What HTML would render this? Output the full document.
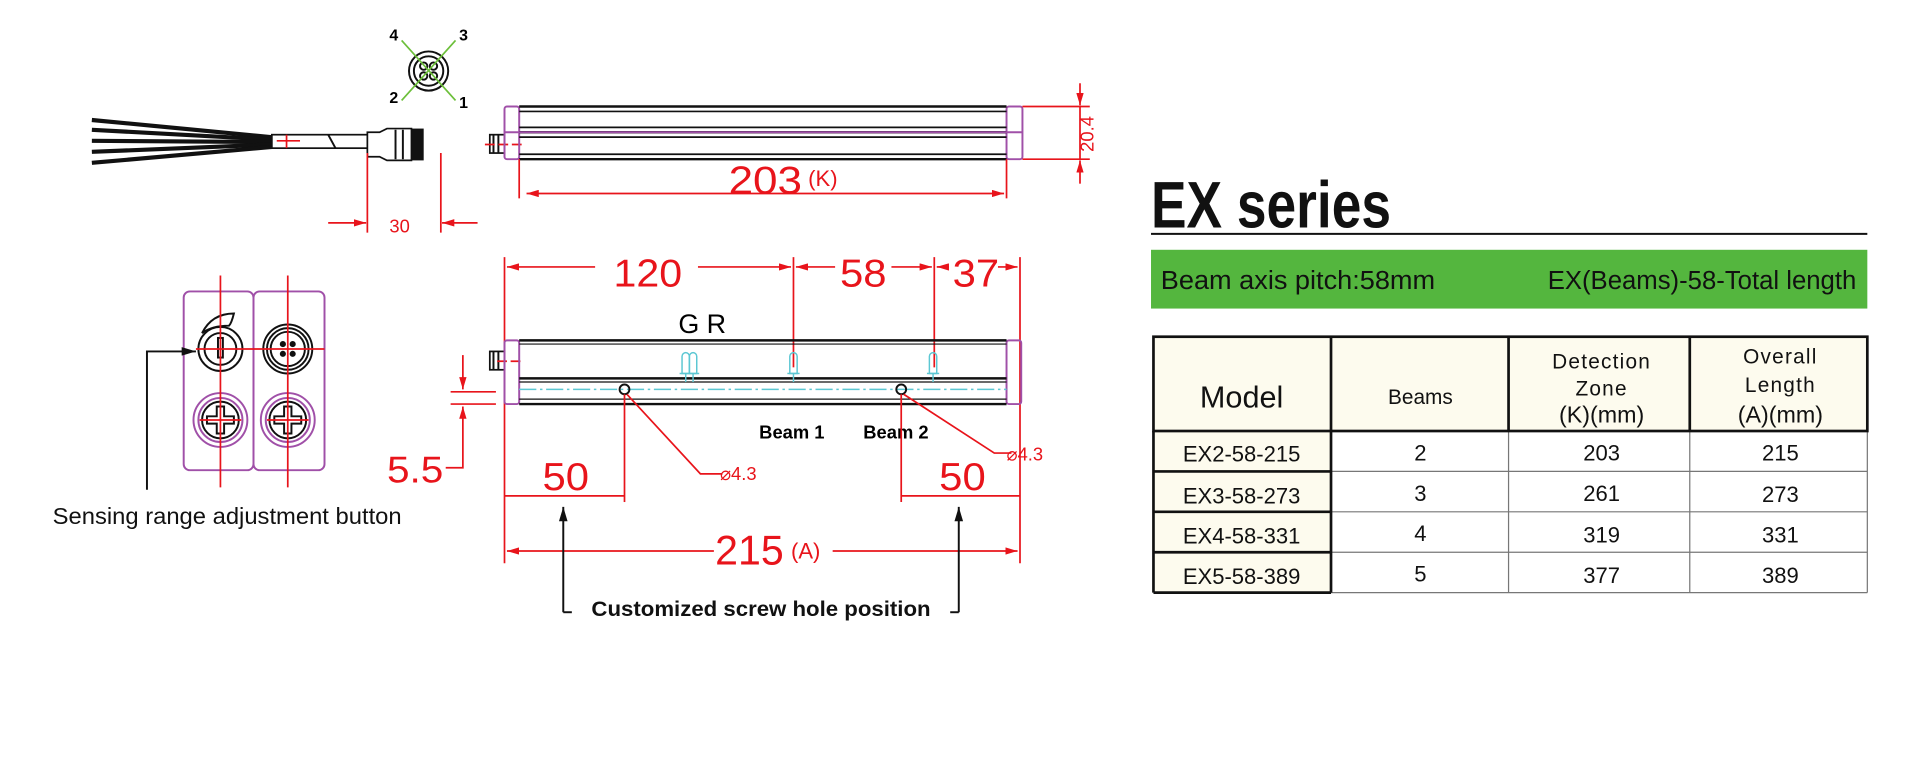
<!DOCTYPE html>
<html><head><meta charset="utf-8"><style>
html,body{margin:0;padding:0;background:#fff;width:1920px;height:779px;overflow:hidden}
svg{display:block}
text{font-family:"Liberation Sans",sans-serif}
.r{stroke:#e8141b;fill:none;stroke-width:1.4}
.k{stroke:#111;fill:none;stroke-width:1.6}
.p{stroke:#a050a8;fill:none;stroke-width:1.6}
.rt{fill:#e8141b}
</style></head><body>
<svg width="1920" height="779" viewBox="0 0 1568 636.2" xmlns="http://www.w3.org/2000/svg">
<defs>
<marker id="a" viewBox="0 0 10 6" refX="10" refY="3" markerWidth="10" markerHeight="6" orient="auto-start-reverse" markerUnits="userSpaceOnUse"><path d="M0,0L10,3L0,6z" fill="#e8141b"/></marker>
<marker id="b" viewBox="0 0 10 6" refX="10" refY="3" markerWidth="12" markerHeight="7" orient="auto-start-reverse" markerUnits="userSpaceOnUse"><path d="M0,0L10,3L0,6z" fill="#111"/></marker>
</defs>
<!-- connector pinout -->
<circle cx="350" cy="58" r="16" class="k" stroke-width="2"/><circle cx="350" cy="58" r="12" class="k" stroke-width="1.2"/>
<circle cx="346" cy="54" r="3" class="k" stroke-width="1"/><circle cx="354" cy="54" r="3" class="k" stroke-width="1"/>
<circle cx="346" cy="62" r="3" class="k" stroke-width="1"/><circle cx="354" cy="62" r="3" class="k" stroke-width="1"/>
<line x1="328" y1="33" x2="372" y2="82" stroke="#6cbf3a" stroke-width="1.4"/>
<line x1="372" y1="33" x2="328" y2="82" stroke="#6cbf3a" stroke-width="1.4"/>
<text x="318" y="33" font-size="13" font-weight="bold">4</text><text x="375" y="33" font-size="13" font-weight="bold">3</text>
<text x="318" y="84" font-size="13" font-weight="bold">2</text><text x="375" y="88" font-size="13" font-weight="bold">1</text>
<!-- wires -->
<g stroke="#111" stroke-width="3.4" fill="none">
<path d="M75,98L222,112"/><path d="M75,106L222,114"/><path d="M75,115L222,116"/><path d="M75,124L222,118"/><path d="M75,133L222,120"/>
</g>
<rect x="222" y="110" width="78" height="11" fill="#fff" stroke="#111" stroke-width="1.4"/>
<line x1="226" y1="115" x2="245" y2="115" class="r"/><line x1="234" y1="110" x2="234" y2="121" class="r"/>
<path d="M268,110l6,11" class="k" stroke-width="1"/>
<path d="M300,108h10l6,-3h20v26h-20l-6,-3h-10z" fill="#fff" stroke="#111" stroke-width="1.4"/>
<rect x="336" y="105" width="10" height="26" fill="#111"/>
<line x1="323" y1="106" x2="323" y2="130" class="k" stroke-width="1"/><line x1="329" y1="106" x2="329" y2="130" class="k" stroke-width="1"/>
<!-- 30 dim -->
<line x1="300" y1="125" x2="300" y2="190" class="r"/><line x1="360" y1="125" x2="360" y2="190" class="r"/>
<line x1="268" y1="182" x2="299" y2="182" class="r" marker-end="url(#a)"/>
<line x1="390" y1="182" x2="361" y2="182" class="r" marker-end="url(#a)"/>
<text x="318" y="190" font-size="15" class="rt">30</text>
<!-- top bar -->
<rect x="400" y="110" width="12" height="15" fill="#fff" stroke="#111" stroke-width="1.4"/>
<line x1="403" y1="110" x2="403" y2="125" class="k" stroke-width="1"/><line x1="407" y1="110" x2="407" y2="125" class="k" stroke-width="1"/>
<line x1="396" y1="118" x2="426" y2="118" class="r" stroke-dasharray="8,3"/>
<rect x="412" y="87" width="12" height="43" rx="2" class="p" fill="#fff"/>
<rect x="822" y="87" width="13" height="43" rx="2" class="p" fill="#fff"/>
<g stroke="#111">
<line x1="424" y1="87" x2="822" y2="87" stroke-width="2"/><line x1="424" y1="91" x2="822" y2="91" stroke-width="1.4"/>
<line x1="424" y1="104" x2="822" y2="104" stroke-width="1.4"/><line x1="424" y1="108" x2="822" y2="108" stroke-width="2"/>
<line x1="424" y1="112" x2="822" y2="112" stroke-width="1.4"/><line x1="424" y1="126" x2="822" y2="126" stroke-width="1.4"/>
<line x1="424" y1="130" x2="822" y2="130" stroke-width="2"/>
</g>
<line x1="412" y1="108" x2="835" y2="108" class="p"/>
<line x1="424" y1="130" x2="424" y2="162" class="r"/><line x1="822" y1="130" x2="822" y2="162" class="r"/>
<line x1="430" y1="158" x2="820" y2="158" class="r" marker-start="url(#a)" marker-end="url(#a)"/>
<text x="595" y="158" font-size="32" class="rt" textLength="60" lengthAdjust="spacingAndGlyphs">203</text><text x="660" y="152" font-size="18" class="rt">(K)</text>
<!-- 20.4 -->
<line x1="835" y1="87" x2="890" y2="87" class="r"/><line x1="835" y1="130" x2="890" y2="130" class="r"/>
<line x1="882" y1="68" x2="882" y2="86" class="r" marker-end="url(#a)"/>
<line x1="882" y1="150" x2="882" y2="131" class="r" marker-end="url(#a)"/>
<line x1="882" y1="87" x2="882" y2="130" class="r"/>
<text transform="translate(893,124) rotate(-90)" font-size="15" class="rt">20.4</text>
<!-- bottom bar dims -->
<line x1="412" y1="210" x2="412" y2="460" class="r"/><line x1="833" y1="210" x2="833" y2="460" class="r"/>
<line x1="648" y1="210" x2="648" y2="300" class="r"/><line x1="763" y1="210" x2="763" y2="300" class="r"/>
<line x1="414" y1="218" x2="486" y2="218" class="r" marker-start="url(#a)"/>
<line x1="570" y1="218" x2="646" y2="218" class="r" marker-end="url(#a)"/>
<line x1="650" y1="218" x2="682" y2="218" class="r" marker-start="url(#a)"/>
<line x1="728" y1="218" x2="761" y2="218" class="r" marker-end="url(#a)"/>
<line x1="765" y1="218" x2="775" y2="218" class="r" marker-start="url(#a)"/>
<line x1="815" y1="218" x2="831" y2="218" class="r" marker-end="url(#a)"/>
<text x="501" y="234" font-size="32" class="rt" textLength="56" lengthAdjust="spacingAndGlyphs">120</text>
<text x="686" y="234" font-size="32" class="rt" textLength="38" lengthAdjust="spacingAndGlyphs">58</text>
<text x="778" y="234" font-size="32" class="rt" textLength="38" lengthAdjust="spacingAndGlyphs">37</text>
<text x="554" y="272" font-size="22" font-family="Liberation Mono,monospace" letter-spacing="6">GR</text>
<!-- bottom bar -->
<rect x="400" y="287" width="12" height="15" fill="#fff" stroke="#111" stroke-width="1.4"/>
<line x1="403" y1="287" x2="403" y2="302" class="k" stroke-width="1"/><line x1="407" y1="287" x2="407" y2="302" class="k" stroke-width="1"/>
<line x1="406" y1="295" x2="426" y2="295" class="r" stroke-dasharray="8,3"/>
<rect x="412" y="278" width="12" height="52" rx="2" class="p" fill="#fff"/>
<rect x="822" y="278" width="12" height="52" rx="2" class="p" fill="#fff"/>
<g stroke="#111">
<line x1="424" y1="278" x2="822" y2="278" stroke-width="2"/><line x1="424" y1="281" x2="822" y2="281" stroke-width="1"/>
<line x1="424" y1="309" x2="822" y2="309" stroke-width="2"/><line x1="424" y1="312" x2="822" y2="312" stroke-width="1"/>
<line x1="424" y1="326" x2="822" y2="326" stroke-width="1"/><line x1="424" y1="330" x2="822" y2="330" stroke-width="2"/>
</g>
<line x1="424" y1="318" x2="822" y2="318" stroke="#5cc7d3" stroke-width="1.2" stroke-dasharray="14,3,2,3"/>
<g stroke="#5cc7d3" fill="none" stroke-width="1.2">
<path d="M557,305v-14a3,3 0 0 1 6,0v14z"/><path d="M563,305v-14a3,3 0 0 1 6,0v14z"/><path d="M555,305h16"/><line x1="560" y1="305" x2="560" y2="312"/><line x1="566" y1="305" x2="566" y2="312"/>
<path d="M645,305v-14a3,3 0 0 1 6,0v14z"/><path d="M643,305h10"/><line x1="648" y1="305" x2="648" y2="312"/>
<path d="M759,305v-14a3,3 0 0 1 6,0v14z"/><path d="M757,305h10"/><line x1="762" y1="305" x2="762" y2="312"/>
</g>
<circle cx="510" cy="318" r="4" class="k" stroke-width="1.4" fill="#fff"/>
<circle cx="736" cy="318" r="4" class="k" stroke-width="1.4" fill="#fff"/>
<text x="620" y="358" font-size="15" font-family="Liberation Mono,monospace" font-weight="bold">Beam 1</text>
<text x="705" y="358" font-size="15" font-family="Liberation Mono,monospace" font-weight="bold">Beam 2</text>
<path d="M512,322L572,387H590" class="r"/><text x="588" y="392" font-size="15" class="rt">⌀4.3</text>
<path d="M738,322L812,370H826" class="r"/><text x="822" y="376" font-size="15" class="rt">⌀4.3</text>
<!-- 5.5 -->
<line x1="368" y1="320" x2="405" y2="320" class="r"/><line x1="368" y1="330" x2="405" y2="330" class="r"/>
<line x1="378" y1="290" x2="378" y2="318" class="r" marker-end="url(#a)"/>
<path d="M378,350V382H364" class="r"/><line x1="378" y1="350" x2="378" y2="332" class="r" marker-end="url(#a)"/>
<text x="316" y="394" font-size="30" class="rt" textLength="46" lengthAdjust="spacingAndGlyphs">5.5</text>
<!-- 50 dims -->
<line x1="510" y1="322" x2="510" y2="410" class="r"/><line x1="736" y1="322" x2="736" y2="410" class="r"/>
<line x1="412" y1="405" x2="510" y2="405" class="r"/><line x1="736" y1="405" x2="833" y2="405" class="r"/>
<text x="443" y="400" font-size="32" class="rt" textLength="38" lengthAdjust="spacingAndGlyphs">50</text><text x="767" y="400" font-size="32" class="rt" textLength="38" lengthAdjust="spacingAndGlyphs">50</text>
<!-- 215 -->
<line x1="414" y1="450" x2="583" y2="450" class="r" stroke-width="2" marker-start="url(#a)"/>
<line x1="680" y1="450" x2="831" y2="450" class="r" stroke-width="2" marker-end="url(#a)"/>
<text x="584" y="461" font-size="34" class="rt" textLength="56" lengthAdjust="spacingAndGlyphs">215</text><text x="646" y="456" font-size="18" class="rt">(A)</text>
<!-- custom screw arrows -->
<path d="M460,500V414" class="k" stroke-width="1.4" marker-end="url(#b)"/><path d="M460,500h7" class="k" stroke-width="1.4"/>
<path d="M783,500V414" class="k" stroke-width="1.4" marker-end="url(#b)"/><path d="M783,500h-7" class="k" stroke-width="1.4"/>
<text x="483" y="503" font-size="17" font-weight="bold" fill="#111" textLength="277" lengthAdjust="spacingAndGlyphs">Customized screw hole position</text>
<!-- side view -->
<rect x="150" y="238" width="57" height="146" rx="5" class="p"/>
<rect x="207" y="238" width="58" height="146" rx="5" class="p"/>
<path d="M165,272q8,-16 26,-16q-2,8 -4,10q-14,0 -22,6z" class="k" stroke-width="1.2"/>
<circle cx="180" cy="285" r="18" class="k" stroke-width="2"/><circle cx="180" cy="285" r="13" class="k"/>
<rect x="178" y="276" width="4" height="16" class="k" stroke-width="1.2"/>
<circle cx="235" cy="285" r="20" class="k" stroke-width="1.4"/><circle cx="235" cy="285" r="17" class="k" stroke-width="1.4"/><circle cx="235" cy="285" r="14" class="k" stroke-width="1.4"/>
<circle cx="231" cy="281" r="2.5" fill="#111"/><circle cx="239" cy="281" r="2.5" fill="#111"/><circle cx="231" cy="289" r="2.5" fill="#111"/><circle cx="239" cy="289" r="2.5" fill="#111"/>
<g>
<circle cx="180" cy="343" r="22" class="p" stroke-width="1.4"/><circle cx="180" cy="343" r="18" class="p" stroke-width="1.4"/><circle cx="180" cy="343" r="15" class="k" stroke-width="3"/>
<path d="M177,332h6v8h8v6h-8v8h-6v-8h-8v-6h8z" class="k" stroke-width="1.4"/>
<circle cx="235" cy="343" r="22" class="p" stroke-width="1.4"/><circle cx="235" cy="343" r="18" class="p" stroke-width="1.4"/><circle cx="235" cy="343" r="15" class="k" stroke-width="3"/>
<path d="M232,332h6v8h8v6h-8v8h-6v-8h-8v-6h8z" class="k" stroke-width="1.4"/>
</g>
<line x1="180" y1="225" x2="180" y2="398" class="r"/><line x1="235" y1="225" x2="235" y2="398" class="r"/>
<line x1="160" y1="285" x2="265" y2="285" class="r"/><line x1="163" y1="343" x2="197" y2="343" class="r"/><line x1="218" y1="343" x2="252" y2="343" class="r"/>
<path d="M120,400V287H160" class="k" stroke-width="1.4" marker-end="url(#b)"/>
<text x="43" y="428" font-size="19" fill="#111" textLength="285" lengthAdjust="spacingAndGlyphs">Sensing range adjustment button</text>
<!-- right side -->
<text x="940" y="186" font-size="54" font-weight="bold" fill="#111" textLength="196" lengthAdjust="spacingAndGlyphs">EX series</text>
<line x1="940" y1="191" x2="1525" y2="191" stroke="#111" stroke-width="1.6"/>
<rect x="940" y="204" width="585" height="48" fill="#54b63e"/>
<text x="948" y="236" font-size="21" fill="#111" textLength="224" lengthAdjust="spacingAndGlyphs">Beam axis pitch:58mm</text>
<text x="1516" y="236" font-size="21" fill="#111" text-anchor="end">EX(Beams)-58-Total length</text>
<rect x="942" y="275" width="583" height="77" fill="#fdfbee"/>
<rect x="942" y="352" width="145" height="132" fill="#fdfbee"/>
<g stroke="#777" stroke-width="1">
<line x1="1087" y1="385" x2="1525" y2="385"/><line x1="1087" y1="418" x2="1525" y2="418"/><line x1="1087" y1="451" x2="1525" y2="451"/>
<line x1="1087" y1="484" x2="1525" y2="484"/><line x1="1525" y1="352" x2="1525" y2="484"/>
<line x1="1232" y1="352" x2="1232" y2="484"/><line x1="1380" y1="352" x2="1380" y2="484"/>
</g>
<g stroke="#111" stroke-width="2.2" fill="none">
<rect x="942" y="275" width="583" height="77"/>
<line x1="1087" y1="275" x2="1087" y2="484"/><line x1="1232" y1="275" x2="1232" y2="352"/><line x1="1380" y1="275" x2="1380" y2="352"/>
<line x1="942" y1="352" x2="942" y2="484"/><line x1="942" y1="385" x2="1087" y2="385"/><line x1="942" y1="418" x2="1087" y2="418"/>
<line x1="942" y1="451" x2="1087" y2="451"/><line x1="942" y1="484" x2="1087" y2="484"/>
</g>
<g fill="#111" text-anchor="middle">
<text x="1014" y="333" font-size="25">Model</text>
<text x="1160" y="330" font-size="17">Beams</text>
<text x="1308" y="301" font-size="17" letter-spacing="1">Detection</text>
<text x="1308" y="323" font-size="17" letter-spacing="1">Zone</text>
<text x="1308" y="345" font-size="19">(K)(mm)</text>
<text x="1454" y="297" font-size="17" letter-spacing="1">Overall</text>
<text x="1454" y="320" font-size="17" letter-spacing="1">Length</text>
<text x="1454" y="345" font-size="19">(A)(mm)</text>
<g font-size="18">
<text x="1014" y="377">EX2-58-215</text><text x="1160" y="376">2</text><text x="1308" y="376">203</text><text x="1454" y="376">215</text>
<text x="1014" y="411">EX3-58-273</text><text x="1160" y="409">3</text><text x="1308" y="409">261</text><text x="1454" y="410">273</text>
<text x="1014" y="444">EX4-58-331</text><text x="1160" y="442">4</text><text x="1308" y="443">319</text><text x="1454" y="443">331</text>
<text x="1014" y="477">EX5-58-389</text><text x="1160" y="475">5</text><text x="1308" y="476">377</text><text x="1454" y="476">389</text>
</g>
</g>
</svg>
</body></html>
